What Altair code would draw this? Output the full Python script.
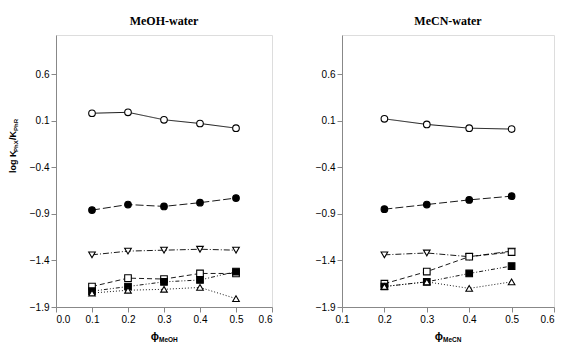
import altair as alt
import pandas as pd

# ---------------- data ----------------
series = ["open_circle", "filled_circle", "down_triangle", "open_square", "filled_square", "up_triangle"]
shapes = ["circle", "circle", "triangle-down", "square", "square", "triangle-up"]
fills = ["white", "black", "white", "white", "black", "white"]
dashes = [[1, 0], [8, 3], [6, 2, 1, 2], [5, 3], [4, 2, 1, 2, 1, 2], [1, 2]]

x_meoh = [0.1, 0.2, 0.3, 0.4, 0.5]
meoh_open_circle = [0.18, 0.19, 0.11, 0.07, 0.02]
meoh_filled_circle = [-0.86, -0.80, -0.82, -0.78, -0.73]
meoh_down_triangle = [-1.34, -1.30, -1.29, -1.28, -1.29]
meoh_open_square = [-1.68, -1.59, -1.60, -1.54, -1.54]
meoh_filled_square = [-1.73, -1.68, -1.63, -1.61, -1.52]
meoh_up_triangle = [-1.75, -1.72, -1.71, -1.69, -1.81]

x_mecn = [0.2, 0.3, 0.4, 0.5]
mecn_open_circle = [0.12, 0.06, 0.02, 0.01]
mecn_filled_circle = [-0.85, -0.80, -0.75, -0.71]
mecn_down_triangle = [-1.34, -1.32, -1.36, -1.30]
mecn_open_square = [-1.65, -1.52, -1.36, -1.31]
mecn_filled_square = [-1.68, -1.63, -1.54, -1.46]
mecn_up_triangle = [-1.68, -1.63, -1.70, -1.63]

x_ticks_meoh = [0.0, 0.1, 0.2, 0.3, 0.4, 0.5, 0.6]
x_ticks_mecn = [0.1, 0.2, 0.3, 0.4, 0.5, 0.6]
y_ticks = [0.6, 0.1, -0.4, -0.9, -1.4, -1.9]


def long_df(xs, cols):
    rows = []
    for name, vals in zip(series, cols):
        for xv, yv in zip(xs, vals):
            rows.append({"phi": xv, "logk": yv, "series": name})
    return pd.DataFrame(rows)


df_meoh = long_df(x_meoh, [meoh_open_circle, meoh_filled_circle, meoh_down_triangle,
                           meoh_open_square, meoh_filled_square, meoh_up_triangle])
df_mecn = long_df(x_mecn, [mecn_open_circle, mecn_filled_circle, mecn_down_triangle,
                           mecn_open_square, mecn_filled_square, mecn_up_triangle])

FONT = "Liberation Sans"
H = 272


def panel(df, xdomain, xticks, title, sub, with_ytitle, W, align_last):
    base = alt.Chart(df)
    xaxis = dict(values=xticks, format=".1f", title=None, grid=False)
    if align_last:
        xaxis["labelAlign"] = {"expr": "datum.value > 0.55 ? 'right' : 'center'"}
    x = alt.X("phi:Q", scale=alt.Scale(domain=xdomain, nice=False, zero=False),
              axis=alt.Axis(**xaxis))
    y = alt.Y("logk:Q", scale=alt.Scale(domain=[-1.9, 1.02], nice=False, zero=False),
              axis=alt.Axis(values=y_ticks, format=".1f", title=None, grid=False))
    lines = base.mark_line(color="black", strokeWidth=0.9).encode(
        x=x, y=y, detail="series:N",
        strokeDash=alt.StrokeDash("series:N", scale=alt.Scale(domain=series, range=dashes), legend=None),
    )
    points = base.mark_point(filled=True, stroke="black", strokeWidth=1.1, size=44, opacity=1).encode(
        x=x, y=y,
        shape=alt.Shape("series:N", scale=alt.Scale(domain=series, range=shapes), legend=None),
        fill=alt.Fill("series:N", scale=alt.Scale(domain=series, range=fills), legend=None),
    )
    phi = alt.Chart(pd.DataFrame({"t": ["\u03d5"]})).mark_text(
        font=FONT, fontSize=11, fontWeight="bold", align="right", baseline="alphabetic"
    ).encode(text="t:N", x=alt.value(W / 2 - 5), y=alt.value(H + 33))
    subt = alt.Chart(pd.DataFrame({"t": [sub]})).mark_text(
        font=FONT, fontSize=6.5, fontWeight="bold", align="left", baseline="alphabetic"
    ).encode(text="t:N", x=alt.value(W / 2 - 5), y=alt.value(H + 34.5))
    layers = [lines, points, phi, subt]
    if with_ytitle:
        xt = -43
        y0 = 138
        pieces = [("log K", 9, 0, 0), ("PhX", 6, 2.5, 21), ("/K", 9, 0, 33), ("PhR", 6, 2.5, 42)]
        for txt, fs, dx, off in pieces:
            layers.append(
                alt.Chart(pd.DataFrame({"t": [txt]})).mark_text(
                    font=FONT, fontSize=fs, fontWeight="bold", angle=270, align="left", baseline="middle"
                ).encode(text="t:N", x=alt.value(xt + dx), y=alt.value(y0 - off))
            )
    return alt.layer(*layers).properties(
        width=W, height=H,
        title=alt.TitleParams(title, font="Liberation Serif", fontSize=12, fontWeight="bold", offset=7),
    )


left = panel(df_meoh, [0.0, 0.6], x_ticks_meoh, "MeOH-water", "MeOH", True, 216, False)
right = panel(df_mecn, [0.1, 0.6], x_ticks_mecn, "MeCN-water", "MeCN", False, 212, True)

chart = alt.hconcat(left, right, spacing=41).properties(
    padding={"left": 0, "top": 6, "right": 0, "bottom": 0}
).configure_view(stroke="black", strokeWidth=1).configure_axis(
    domainColor="black", tickColor="black", tickSize=5, labelFont=FONT, labelFontSize=9.5,
    labelFontWeight="bold", labelColor="black", labelPadding=3, domainWidth=1,
).configure(background="white")

chart.save("out.html", embed_options={"renderer": "svg", "actions": False})
